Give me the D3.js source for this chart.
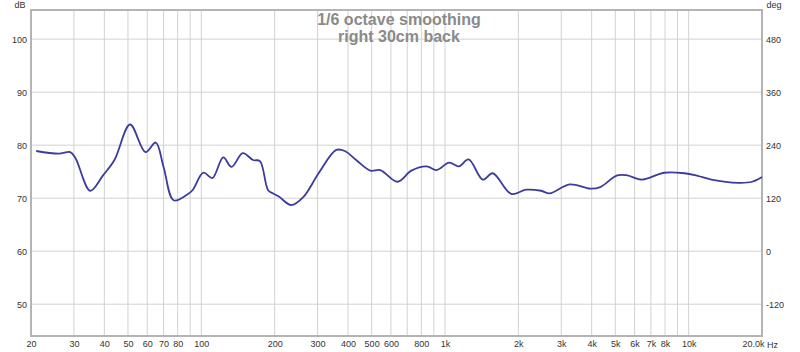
<!DOCTYPE html>
<html>
<head>
<meta charset="utf-8">
<script src="https://cdn.jsdelivr.net/npm/d3@7"></script>
<style>
  body { margin: 0; background: #fff; }
  svg text { font-family: "Liberation Sans", Arial, sans-serif; }
</style>
</head>
<body>
<figure id="rew" style="margin:0"></figure>
<script>
const freqs = [21, 26, 29, 30.5, 35, 39.5, 44, 51, 59, 65, 70, 77, 87, 92, 102, 111, 123, 133, 148, 163, 174, 188, 197, 208, 234, 262, 303, 358, 388, 432, 494, 543, 638, 728, 841, 923, 1040, 1140, 1250, 1430, 1570, 1870, 2150, 2480, 2690, 3250, 3950, 4340, 5090, 5600, 6450, 7920, 9600, 10900, 12400, 16000, 18200, 20000];
const spl = [78.9, 78.4, 78.7, 77.5, 71.4, 74.3, 77.2, 83.9, 78.7, 80.5, 75.9, 69.6, 70.6, 71.5, 74.8, 73.8, 77.7, 75.9, 78.5, 77.2, 77.0, 71.5, 70.9, 70.3, 68.7, 70.2, 74.7, 79.1, 78.9, 77.2, 75.2, 75.3, 73.1, 75.2, 76.0, 75.3, 76.7, 76.0, 77.3, 73.5, 74.7, 70.8, 71.6, 71.4, 70.9, 72.6, 71.8, 72.1, 74.3, 74.3, 73.5, 74.8, 74.7, 74.2, 73.5, 72.9, 73.1, 74.0];

const gridFreqs = [20, 30, 40, 50, 60, 70, 80, 90, 100, 200, 300, 400, 500, 600, 700, 800, 900, 1000, 2000, 3000, 4000, 5000, 6000, 7000, 8000, 9000, 10000, 20000];
const xTickFreqs = [20, 30, 40, 50, 60, 70, 80, 100, 200, 300, 400, 500, 600, 800, 1000, 2000, 3000, 4000, 5000, 6000, 7000, 8000, 10000, 20000];
const xTickLabels = ["20", "30", "40", "50", "60", "70", "80", "100", "200", "300", "400", "500", "600", "800", "1k", "2k", "3k", "4k", "5k", "6k", "7k", "8k", "10k", "20.0k"];
const dbTicks = [50, 60, 70, 80, 90, 100];
const degTicks = [-120, 0, 120, 240, 360, 480];
const titleLines = ["1/6 octave smoothing", "right 30cm back"];

const W = 800, H = 352;
const margin = { top: 10, right: 38, bottom: 16, left: 31 };
const width = W - margin.left - margin.right;
const height = H - margin.top - margin.bottom;

const svg = d3.select("figure#rew")
  .append("svg")
  .attr("width", W)
  .attr("height", H);

const g = svg.append("g")
  .attr("transform", "translate(" + margin.left + "," + margin.top + ")");

const x = d3.scaleLog().domain([20, 20000]).range([0, width]);
const y = d3.scaleLinear().domain([44, 105.5]).range([height, 0]);
// phase axis: 120 deg per 10 dB, 0 deg at 60 dB
const yDeg = d3.scaleLinear().domain([(44 - 60) * 12, (105.5 - 60) * 12]).range([height, 0]);

// grid
g.append("g")
  .selectAll("line")
  .data(gridFreqs)
  .join("line")
  .attr("x1", d => x(d)).attr("x2", d => x(d))
  .attr("y1", 0).attr("y2", height)
  .attr("stroke", "#d2d2d2")
  .attr("stroke-width", 1);

g.append("g")
  .selectAll("line")
  .data(dbTicks)
  .join("line")
  .attr("x1", 0).attr("x2", width)
  .attr("y1", d => y(d)).attr("y2", d => y(d))
  .attr("stroke", "#d2d2d2")
  .attr("stroke-width", 1);

// left axis
const left = g.append("g")
  .call(d3.axisLeft(y).tickValues(dbTicks).tickSize(0).tickPadding(4));
left.select(".domain").remove();
left.selectAll("text").attr("font-size", 9).attr("fill", "#333");

// right axis
const right = g.append("g")
  .attr("transform", "translate(" + width + ",0)")
  .call(d3.axisRight(yDeg).tickValues(degTicks).tickFormat(d => String(d)).tickSize(0).tickPadding(4));
right.select(".domain").remove();
right.selectAll("text").attr("font-size", 9).attr("fill", "#333");

// bottom axis
const bottom = g.append("g")
  .attr("transform", "translate(0," + height + ")")
  .call(d3.axisBottom(x).tickValues(xTickFreqs)
    .tickFormat((d, i) => xTickLabels[i]).tickSize(0).tickPadding(5));
bottom.select(".domain").remove();
bottom.selectAll("text").attr("font-size", 9).attr("fill", "#333");
bottom.selectAll("text").filter(d => d === 20000).attr("dx", -9);

g.append("text")
  .attr("x", width + 5).attr("y", height + 12)
  .attr("font-size", 9).attr("fill", "#333")
  .text("Hz");

svg.append("text")
  .attr("x", 20).attr("y", 8)
  .attr("font-size", 9).attr("fill", "#333")
  .attr("text-anchor", "middle")
  .text("dB");

svg.append("text")
  .attr("x", margin.left + width + 12).attr("y", 8)
  .attr("font-size", 9).attr("fill", "#333")
  .attr("text-anchor", "middle")
  .text("deg");

// frame
g.append("rect")
  .attr("x", 0).attr("y", 0)
  .attr("width", width).attr("height", height)
  .attr("fill", "none")
  .attr("stroke", "#b4b4b4")
  .attr("stroke-width", 2);

// title
g.append("g")
  .selectAll("text")
  .data(titleLines)
  .join("text")
  .attr("x", x(1000) - 46)
  .attr("y", (d, i) => 15 + i * 17)
  .attr("text-anchor", "middle")
  .attr("font-size", 16)
  .attr("font-weight", "bold")
  .attr("fill", "#8a8a8a")
  .text(d => d);

// response curve
const line = d3.line()
  .x((d, i) => x(freqs[i]))
  .y(d => y(d))
  .curve(d3.curveCatmullRom.alpha(0.5));

g.append("path")
  .datum(spl)
  .attr("d", line)
  .attr("fill", "none")
  .attr("stroke", "#3c3c9a")
  .attr("stroke-width", 1.8);
</script>
</body>
</html>
